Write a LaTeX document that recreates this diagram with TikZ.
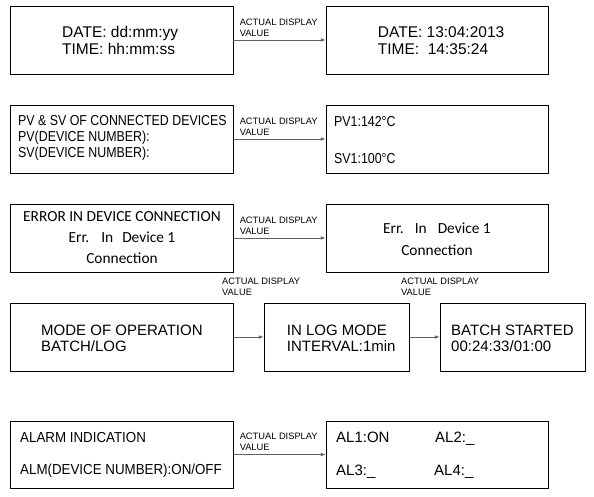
\documentclass[tikz,border=0pt]{standalone}
\usepackage{fontspec}
\setmainfont{Liberation Sans}
\newfontfamily\narrowfont[FakeStretch=0.86]{Liberation Sans}
\newfontfamily\almfont[FakeStretch=0.92]{Liberation Sans}
\newfontfamily\calfont{Carlito}
\usetikzlibrary{arrows, positioning, calc}
\definecolor{wiregray}{RGB}{95,95,95}
\tikzset{
  scr/.style={draw, line width=0.9pt, minimum width=223pt, minimum height=68pt, inner sep=0pt},
  sscr/.style={scr, minimum width=145pt},
  tra/.style={->, >=latex, wiregray, line width=0.6pt},
  tlab/.style={font=\fontsize{9.3}{11}\selectfont, align=left, inner sep=0pt, anchor=south west, black},
  alab/.style={tlab, pos=0, xshift=6pt, yshift=3.5pt},
  txt/.style={inner sep=0pt, anchor=base west, align=left, font=\fontsize{15.5}{16.6}\selectfont},
  ntxt/.style={txt, font=\narrowfont\fontsize{14.4}{15.7}\selectfont},
  ctxt/.style={inner sep=0pt, anchor=base, align=center, font=\calfont\fontsize{15.4}{20.6}\selectfont}
}

\begin{document}
\begin{tikzpicture}[x=1pt, y=-1pt]
		\useasboundingbox (0,0) rectangle (594,497);
		% date and time
		\node[scr] (dtset) at (121.5,40) {};
		\node[scr, minimum width=222pt] (dtval) at (437,40) {};
		\node[txt] (dtsetT) at (62,54.3) {DATE: dd:mm:yy\\TIME: hh:mm:ss};
		\node[txt] (dtvalT) at (377.7,54.3) {DATE: 13:04:2013\\TIME:\ \ 14:35:24};
		\draw[tra] (dtset) -- node[alab] {ACTUAL DISPLAY\\VALUE} (dtval);
		% pv and sv
		\node[scr] (pvset) at (121.5,139) {};
		\node[scr, minimum width=222pt] (pvval) at (437,139) {};
		\node[ntxt] (pvsetT) at (18,157.4) {PV \& SV OF CONNECTED DEVICES\\PV(DEVICE NUMBER):\\SV(DEVICE NUMBER):};
		\node[ntxt] (pvT) at (334,126.7) {PV1:142°C};
		\node[ntxt] (svT) at (334,163.3) {SV1:100°C};
		\draw[tra] (pvset) -- node[alab] {ACTUAL DISPLAY\\VALUE} (pvval);
		% connection error
		\node[scr] (errset) at (121.5,238) {};
		\node[scr, minimum width=222pt] (errval) at (437,238) {};
		\node[ctxt] (errsetT) at (122,263) {ERROR IN DEVICE CONNECTION\\Err.\hspace{12pt}In\hspace{9pt}Device 1\\Connection};
		\node[ctxt, font=\calfont\fontsize{15.4}{22}\selectfont] (errvalT) at (437,255) {Err.\hspace{11pt}In\hspace{11pt}Device 1\\Connection};
		\draw[tra] (errset) -- node[alab] {ACTUAL DISPLAY\\VALUE} (errval);
		% mode of operation
		\node[scr] (mode) at (121.5,337) {};
		\node[sscr] (logmode) at (336.5,337) {};
		\node[sscr] (batch) at (512.5,337) {};
		\node[txt, font=\fontsize{15}{16.7}\selectfont] (modeT) at (41,351.7) {MODE OF OPERATION\\BATCH/LOG};
		\node[txt, font=\fontsize{15}{16.7}\selectfont] (logmodeT) at (286.7,351.7) {IN LOG MODE\\INTERVAL:1min};
		\node[txt, font=\fontsize{15}{16.7}\selectfont] (batchT) at (451,351.7) {BATCH STARTED\\00:24:33/01:00};
		\node[tlab] (modeL) at (222,296) {ACTUAL DISPLAY\\VALUE};
		\node[tlab] (logmodeL) at (401,296) {ACTUAL DISPLAY\\VALUE};
		\draw[tra] (mode) -- (logmode);
		\draw[tra] (logmode) -- (batch);
		% alarms
		\node[scr, minimum height=67pt] (almset) at (121.5,454.5) {};
		\node[scr, minimum height=67pt, minimum width=222pt] (almval) at (437,454.5) {};
		\node[txt, font=\almfont\fontsize{14.5}{16}\selectfont] (almA) at (20,442.7) {ALARM INDICATION};
		\node[txt, font=\almfont\fontsize{14.5}{16}\selectfont] (almB) at (20,474) {ALM(DEVICE NUMBER):ON/OFF};
		\node[txt, font=\fontsize{15}{16}\selectfont] (al1) at (336,442.7) {AL1:ON};
		\node[txt, font=\fontsize{15}{16}\selectfont] (al2) at (435,442.7) {AL2:\_};
		\node[txt, font=\fontsize{15}{16}\selectfont] (al3) at (336,475) {AL3:\_};
		\node[txt, font=\fontsize{15}{16}\selectfont] (al4) at (434,475) {AL4:\_};
		\draw[tra] (almset) -- node[alab] {ACTUAL DISPLAY\\VALUE} (almval);
	\end{tikzpicture}
\end{document}
